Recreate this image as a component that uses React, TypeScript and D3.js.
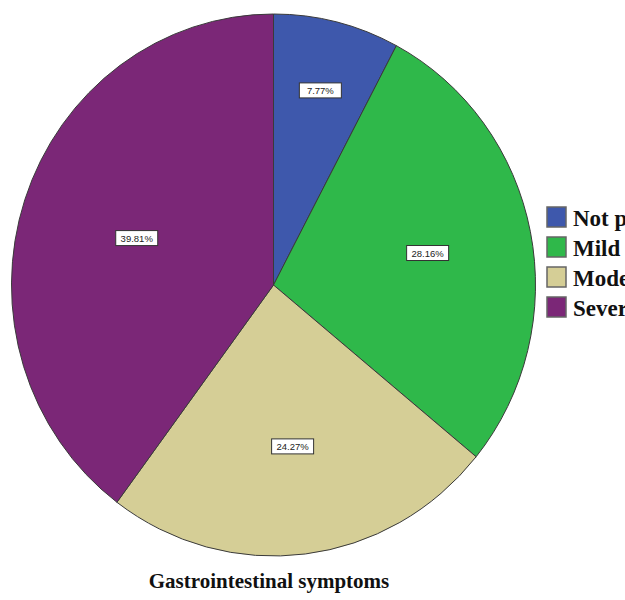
import React from "react";
import * as d3 from "d3";

const categories = ["Not present", "Mild", "Moderate", "Severe"];
const values = [7.77, 28.16, 24.27, 39.81];
const labels = ["7.77%", "28.16%", "24.27%", "39.81%"];
const colors = ["#3E58AC", "#2FB84A", "#D5CE96", "#7B2777"];
const title = "Gastrointestinal symptoms";

// layout (styling) constants
const W = 625, H = 600;
const CX = 273.5, CY = 285, RX = 262, RY = 271;
const labelRadiusFrac = [0.74, 0.6, 0.6, 0.55];

export default function App() {
  const pie = d3.pie<number>().sort(null).value((d) => d)(values);
  const arc = d3.arc<d3.PieArcDatum<number>>().innerRadius(0).outerRadius(RY);
  return (
    <svg width={W} height={H} style={{ position: "absolute", left: 0, top: 0, background: "#fff" }}>
      <g transform={`translate(${CX},${CY}) scale(${RX / RY},1)`}>
        {pie.map((p, i) => (
          <path key={i} d={arc(p) as string} fill={colors[i]} stroke="#3a3a3a" strokeWidth={1} vectorEffect="non-scaling-stroke" />
        ))}
      </g>
      {pie.map((p, i) => {
        const a = (p.startAngle + p.endAngle) / 2;
        const f = labelRadiusFrac[i];
        const x = CX + Math.sin(a) * f * RX;
        const y = CY - Math.cos(a) * f * RY;
        return (
          <g key={i} transform={`translate(${x},${y})`}>
            <rect x={-21} y={-7.5} width={42} height={15} fill="#fff" stroke="#333" strokeWidth={1} />
            <text x={0} y={3.5} textAnchor="middle" fontFamily="Arial, 'Liberation Sans', sans-serif" fontSize={9.5} fill="#222">
              {labels[i]}
            </text>
          </g>
        );
      })}
      {categories.map((c, i) => (
        <g key={c} transform={`translate(547,${207 + i * 30})`}>
          <rect x={0} y={0} width={19} height={20} fill={colors[i]} stroke="#666" strokeWidth={1.5} />
          <text x={26} y={19} fontFamily="'Liberation Serif', 'Times New Roman', serif" fontWeight="bold" fontSize={23} fill="#111">
            {c}
          </text>
        </g>
      ))}
      <text x={269} y={588} textAnchor="middle" fontFamily="'Liberation Serif', 'Times New Roman', serif" fontWeight="bold" fontSize={21} fill="#111">
        {title}
      </text>
    </svg>
  );
}
